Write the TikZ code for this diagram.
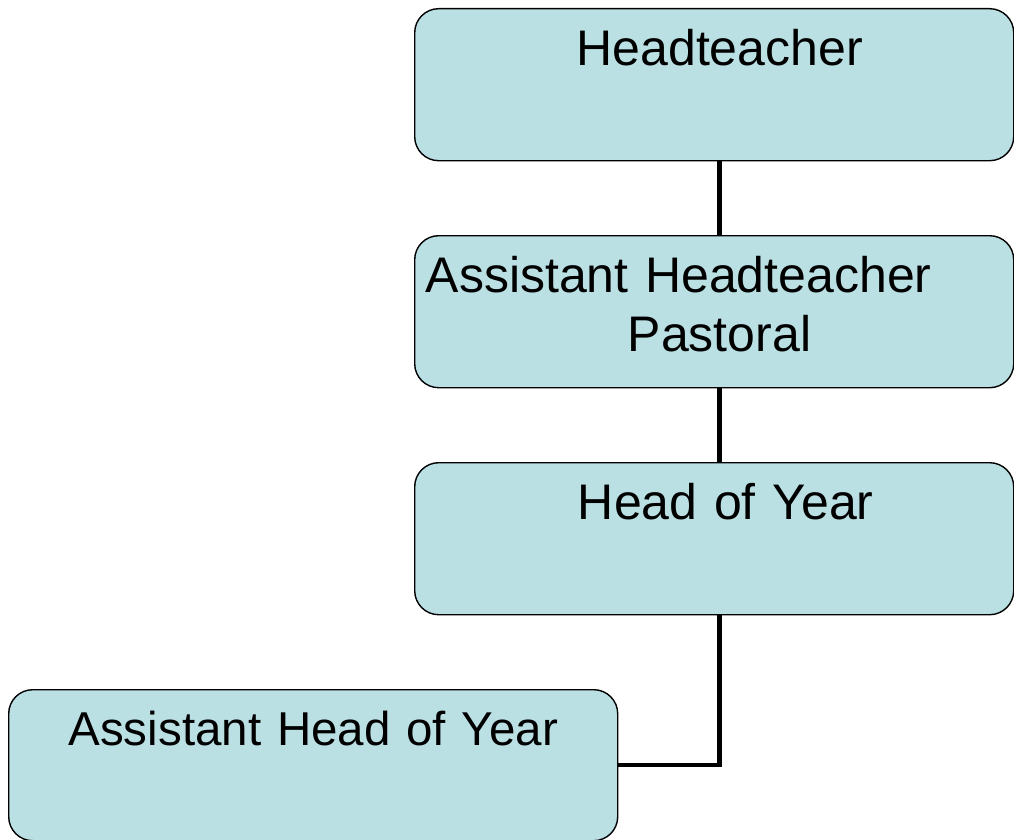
\documentclass[tikz,border=0pt]{standalone}
\usepackage{fontspec}
\setmainfont{Liberation Sans}
\usepackage{tikz}
\definecolor{boxblue}{RGB}{186,224,228}

\tikzset{
  post/.style={draw=black, line width=1.4pt, fill=boxblue, rounded corners=24pt,
    anchor=north west, minimum width=599pt, inner xsep=11pt, inner ysep=0pt,
    text width=577pt, align=center, text height=57pt, text depth=95pt,
    font=\fontsize{50}{59}\selectfont},
  link/.style={line width=4.5pt}
}

\begin{document}
\begin{tikzpicture} [x=1pt, y=-1pt]
  \useasboundingbox (0,0) rectangle (1014,840);
  \path  (414,8)    node[post](head) {\hspace*{11pt}Headteacher}
         (414,235)  node[post, align=left](aht) {Assistant Headteacher\\\hspace*{202pt}Pastoral}
         (414,462)  node[post](hoy) {\hspace*{23pt}Head of Year}
         (8,689)    node[post, minimum width=609pt, text width=587pt, text height=56pt,
                         font=\fontsize{47.5}{56}\selectfont](ahoy) {Assistant Head of Year};
  \draw [link] ([xshift=5.5pt]head.south) -- ([xshift=5.5pt]aht.north);
  \draw [link] ([xshift=5.5pt]aht.south) -- ([xshift=5.5pt]hoy.north);
  \draw [link] ([xshift=5.5pt]hoy.south) |- (ahoy.east);
\end{tikzpicture}
\end{document}
